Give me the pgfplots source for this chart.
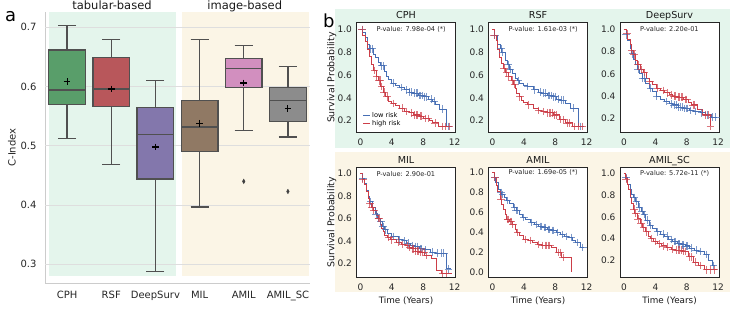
\documentclass[border=0pt]{standalone}
\usepackage{pgfplots}
\pgfplotsset{compat=1.18}
\usepgfplotslibrary{statistics}
\usepackage{fontspec}
\setmainfont{DejaVu Sans}
\definecolor{bggreen}{RGB}{228,245,236}
\definecolor{bgyellow}{RGB}{251,245,230}
\definecolor{boxedge}{RGB}{80,80,80}
\definecolor{cgreen}{RGB}{89,158,106}
\definecolor{cred}{RGB}{184,87,91}
\definecolor{cpurple}{RGB}{131,119,172}
\definecolor{cbrown}{RGB}{144,121,100}
\definecolor{cpink}{RGB}{210,143,191}
\definecolor{cgray}{RGB}{140,140,140}
\definecolor{kmblue}{RGB}{70,110,180}
\definecolor{kmred}{RGB}{204,62,72}
\newcommand\afont{\fontsize{10}{12}\selectfont}
\newcommand\kmfont{\fontsize{9}{10}\selectfont}
\newcommand\ktfont{\fontsize{9.6}{11}\selectfont}
\newcommand\pfont{\fontsize{6.6}{8}\selectfont}
\pgfplotsset{
 km/.style={scale only axis, width=99pt, height=110pt, anchor=south west, clip=false,
  xmin=-0.5, xmax=12.1, xtick={0,4,8,12},
  axis background/.style={fill=white},
  axis line style={black!85, line width=0.9pt},
  major tick length=0pt,
  tick label style={font=\kmfont, black!85},
  /pgf/number format/assume math mode=true,
  yticklabel style={/pgf/number format/fixed, /pgf/number format/fixed zerofill, /pgf/number format/precision=1, xshift=-1pt},
  xticklabel style={yshift=-5pt, inner sep=1pt},
  every axis y label/.style={at={(axis description cs:-0.25,0.5)}, rotate=90, anchor=center, font=\fontsize{9.4}{11}\selectfont, black!90},
  every axis x label/.style={at={(axis description cs:0.5,0)}, anchor=center, yshift=-23pt, inner sep=0.5pt, font=\fontsize{8.8}{10}\selectfont, black!90},
  ytick={0.2,0.4,0.6,0.8,1.0}},
 bl/.style={const plot, kmblue, line width=1pt},
 rl/.style={const plot, kmred, line width=1pt},
 bm/.style={only marks, mark=+, mark size=3.8pt, kmblue, mark options={line width=0.9pt, opacity=0.7}, forget plot},
 rm/.style={only marks, mark=+, mark size=3.8pt, kmred, mark options={line width=0.9pt, opacity=0.7}, forget plot},
 bx/.style={boxplot/draw direction=y, draw=boxedge, line width=1.3pt},
}
\newcommand\kmtitle[1]{\node[anchor=base, font=\ktfont, black!90] at (rel axis cs:0.5,1) [yshift=4.2pt] {#1};}
\begin{document}
\begin{tikzpicture}
\useasboundingbox (0,0) rectangle (730pt,309pt);
\fill[bggreen] (335pt,161.5pt) rectangle (730pt,299.7pt);
\fill[bgyellow] (335pt,17pt) rectangle (730pt,157pt);
% ---------------- panel a ----------------
\begin{axis}[scale only axis, width=265pt, height=271pt, at={(45pt,26pt)}, anchor=south west,
 xmin=-0.5, xmax=5.5, ymin=0.2685, ymax=0.7259,
 axis x line*=bottom, axis y line*=left, axis line style={black!20, line width=1pt, -},
 xtick={0,1,2,3,4,5}, xticklabels={CPH,RSF,DeepSurv,MIL,AMIL,AMIL\_SC},
 ytick={0.3,0.4,0.5,0.6,0.7}, major tick length=0pt,
 tick label style={font=\afont, black!85},
 /pgf/number format/assume math mode=true,
 yticklabel style={/pgf/number format/fixed, /pgf/number format/fixed zerofill, /pgf/number format/precision=1, xshift=-5pt},
 xticklabel style={yshift=-5pt},
 ylabel={C-Index},
 every axis y label/.style={at={(axis description cs:-0.125,0.5)}, rotate=90, anchor=center, font=\afont, black!85}]
\addplot[fill=bggreen, draw=none] coordinates {(-0.40,0.280) (2.47,0.280) (2.47,0.7259) (-0.40,0.7259)} -- cycle;
\addplot[fill=bgyellow, draw=none] coordinates {(2.61,0.280) (5.47,0.280) (5.47,0.7259) (2.61,0.7259)} -- cycle;
\addplot[black!13, line width=0.8pt] coordinates {(-0.5,0.3) (5.5,0.3)};
\addplot[black!13, line width=0.8pt] coordinates {(-0.5,0.4) (5.5,0.4)};
\addplot[black!13, line width=0.8pt] coordinates {(-0.5,0.5) (5.5,0.5)};
\addplot[black!13, line width=0.8pt] coordinates {(-0.5,0.6) (5.5,0.6)};
\addplot[black!13, line width=0.8pt] coordinates {(-0.5,0.7) (5.5,0.7)};
\addplot[bx, fill=cgreen, boxplot prepared={draw position=0, lower whisker=0.512, lower quartile=0.570, median=0.594, upper quartile=0.662, upper whisker=0.703, box extend=0.83, whisker extend=0.41}] coordinates {};
\addplot[bx, fill=cred, boxplot prepared={draw position=1, lower whisker=0.468, lower quartile=0.566, median=0.596, upper quartile=0.649, upper whisker=0.679, box extend=0.83, whisker extend=0.41}] coordinates {};
\addplot[bx, fill=cpurple, boxplot prepared={draw position=2, lower whisker=0.288, lower quartile=0.444, median=0.519, upper quartile=0.565, upper whisker=0.610, box extend=0.83, whisker extend=0.41}] coordinates {};
\addplot[bx, fill=cbrown, boxplot prepared={draw position=3, lower whisker=0.397, lower quartile=0.490, median=0.532, upper quartile=0.577, upper whisker=0.680, box extend=0.83, whisker extend=0.41}] coordinates {};
\addplot[bx, fill=cpink, boxplot prepared={draw position=4, lower whisker=0.526, lower quartile=0.598, median=0.630, upper quartile=0.647, upper whisker=0.669, box extend=0.83, whisker extend=0.41}] coordinates {};
\addplot[bx, fill=cgray, boxplot prepared={draw position=5, lower whisker=0.515, lower quartile=0.541, median=0.577, upper quartile=0.598, upper whisker=0.634, box extend=0.83, whisker extend=0.41}] coordinates {};
\addplot[only marks, mark=diamond*, mark size=2.3pt, mark options={xscale=0.75, fill=black!75, draw=black!75}] coordinates {(4,0.440) (5,0.423)};
\addplot[only marks, mark=+, mark size=3.4pt, black, mark options={line width=1.1pt}] coordinates {(0,0.608) (1,0.596) (2,0.498) (3,0.538) (4,0.606) (5,0.563)};
\end{axis}
\node[anchor=base, font=\fontsize{11.5}{13}\selectfont, black!90] at (112pt,300pt) {tabular-based};
\node[anchor=base, font=\fontsize{11.5}{13}\selectfont, black!90] at (244.7pt,300pt) {image-based};
\node[anchor=base west, inner sep=0pt, font=\fontsize{18}{20}\selectfont] at (5pt,287.3pt) {a};
\node[anchor=base west, inner sep=0pt, font=\fontsize{18}{20}\selectfont] at (323pt,281.7pt) {b};
% ---------------- CPH ----------------
\begin{axis}[km, at={(356.5pt,176.3pt)}, ymin=0.095, ymax=1.058, ylabel={Survival Probability},
 legend style={at={(axis description cs:0.03,0.02)}, anchor=south west, draw=none, fill=none, font=\pfont, row sep=-1.5pt, nodes={inner sep=1.5pt}},
 legend cell align=left,
 legend image code/.code={\draw[#1] (0pt,0pt) -- (7pt,0pt);}]
\addplot[bl] coordinates {(0,1.0)(0.3,0.97)(0.6,0.93)(0.9,0.87)(1.2,0.83)(1.6,0.78)(1.9,0.75)(2.3,0.71)(2.6,0.68)(3.0,0.63)(3.3,0.59)(3.6,0.56)(4.0,0.53)(4.5,0.51)(5.0,0.49)(5.6,0.47)(6.2,0.45)(6.8,0.44)(7.4,0.42)(8.0,0.41)(8.6,0.39)(9.2,0.37)(9.6,0.34)(10.1,0.30)(10.9,0.15)(11.4,0.15)};
\addlegendentry{low risk}
\addplot[rl] coordinates {(0,1.0)(0.3,0.95)(0.6,0.89)(0.9,0.82)(1.1,0.76)(1.4,0.69)(1.7,0.64)(2.0,0.59)(2.3,0.55)(2.6,0.50)(2.9,0.45)(3.2,0.41)(3.6,0.37)(4.0,0.35)(4.5,0.33)(5.0,0.31)(5.6,0.28)(6.2,0.27)(6.8,0.25)(7.5,0.24)(8.0,0.22)(8.8,0.20)(9.2,0.18)(9.9,0.15)(11.6,0.15)};
\addlegendentry{high risk}
\addplot[bm] coordinates {(0.2,1.0)(1.3,0.83)(1.5,0.83)(2.7,0.68)(2.9,0.68)(4.2,0.53)(5.2,0.49)(5.8,0.47)(6.3,0.45)(6.5,0.45)(6.9,0.44)(7.1,0.44)(7.3,0.44)(7.5,0.42)(7.7,0.42)(7.9,0.42)(8.2,0.41)(8.4,0.41)(9.0,0.39)(9.4,0.37)(10.5,0.30)(11.2,0.15)};
\addplot[rm] coordinates {(0.2,1.0)(1.8,0.64)(2.1,0.59)(2.4,0.55)(2.5,0.55)(2.7,0.50)(3.0,0.45)(3.4,0.41)(4.2,0.35)(5.3,0.31)(5.8,0.28)(6.5,0.27)(6.9,0.25)(7.1,0.25)(7.3,0.25)(7.6,0.24)(7.8,0.24)(8.3,0.22)(8.6,0.22)(9.5,0.18)(10.5,0.15)(10.8,0.15)(11.3,0.15)};
\node[anchor=west, font=\pfont, black!85] at (axis cs:1.6,1.0) {P-value: 7.98e-04 (*)};
\kmtitle{CPH}
\end{axis}
% ---------------- RSF ----------------
\begin{axis}[km, at={(488.5pt,176.3pt)}, ymin=0.095, ymax=1.058]
\addplot[bl] coordinates {(0,1.0)(0.3,0.95)(0.7,0.87)(1.0,0.83)(1.2,0.80)(1.6,0.73)(1.9,0.69)(2.2,0.65)(2.6,0.61)(2.9,0.57)(3.2,0.55)(3.5,0.53)(4.0,0.51)(4.4,0.50)(5.2,0.47)(5.8,0.45)(6.3,0.44)(7.0,0.42)(7.6,0.41)(8.2,0.39)(8.7,0.38)(9.3,0.35)(9.9,0.31)(11.0,0.15)(11.5,0.15)};
\addplot[rl] coordinates {(0,1.0)(0.2,0.95)(0.5,0.90)(0.7,0.82)(0.95,0.75)(1.2,0.70)(1.4,0.66)(1.7,0.62)(2.0,0.59)(2.4,0.55)(2.7,0.52)(2.9,0.48)(3.1,0.44)(3.4,0.41)(3.7,0.38)(4.0,0.36)(4.4,0.34)(5.2,0.31)(5.8,0.29)(6.3,0.28)(7.0,0.27)(7.8,0.25)(8.5,0.21)(9.3,0.18)(10.2,0.15)(11.7,0.15)};
\addplot[bm] coordinates {(0.3,0.95)(1.1,0.83)(1.3,0.80)(2.0,0.69)(2.3,0.65)(3.3,0.55)(4.5,0.50)(5.4,0.47)(6.1,0.45)(6.5,0.44)(6.8,0.44)(7.1,0.42)(7.3,0.42)(7.5,0.42)(7.8,0.41)(8.0,0.41)(8.4,0.39)(8.8,0.38)(9.0,0.38)(10.3,0.31)(11.2,0.15)};
\addplot[rm] coordinates {(0.2,0.95)(1.5,0.66)(1.8,0.62)(2.1,0.59)(2.5,0.55)(2.8,0.52)(3.5,0.41)(4.6,0.34)(5.9,0.29)(6.5,0.28)(7.0,0.27)(7.2,0.27)(7.4,0.27)(7.6,0.27)(7.9,0.25)(8.1,0.25)(8.7,0.21)(9.0,0.21)(9.5,0.18)(9.8,0.18)(10.5,0.15)(10.9,0.15)(11.4,0.15)};
\node[anchor=west, font=\pfont, black!85] at (axis cs:1.6,1.0) {P-value: 1.61e-03 (*)};
\kmtitle{RSF}
\end{axis}
% ---------------- DeepSurv ----------------
\begin{axis}[km, at={(620pt,176.3pt)}, ymin=0.071, ymax=1.059]
\addplot[bl] coordinates {(0,1.0)(0.3,0.95)(0.5,0.90)(0.8,0.83)(1.0,0.78)(1.2,0.73)(1.5,0.68)(1.7,0.64)(2.0,0.60)(2.3,0.56)(2.8,0.51)(3.2,0.47)(3.6,0.44)(4.1,0.40)(4.6,0.37)(5.2,0.35)(5.8,0.33)(6.2,0.32)(6.9,0.30)(7.6,0.29)(8.3,0.27)(8.9,0.26)(9.7,0.25)(10.4,0.23)(11.1,0.21)(11.8,0.21)};
\addplot[bm] coordinates {(0.3,0.95)(1.1,0.78)(1.8,0.64)(2.4,0.56)(2.6,0.56)(3.4,0.47)(4.2,0.40)(5.4,0.35)(6.0,0.33)(6.4,0.32)(6.7,0.32)(7.0,0.30)(7.2,0.30)(7.4,0.30)(7.7,0.29)(7.9,0.29)(8.1,0.29)(8.5,0.27)(9.1,0.26)(9.9,0.25)(10.6,0.23)(11.3,0.21)(11.7,0.21)};
\addplot[rl] coordinates {(0,1.0)(0.3,0.96)(0.5,0.91)(0.8,0.86)(1.0,0.81)(1.2,0.77)(1.5,0.72)(1.7,0.68)(2.1,0.64)(2.5,0.61)(2.9,0.56)(3.2,0.53)(3.6,0.50)(4.1,0.47)(4.6,0.45)(5.2,0.43)(5.8,0.41)(6.2,0.40)(6.9,0.39)(7.6,0.37)(8.2,0.34)(8.6,0.32)(9.3,0.28)(10.0,0.23)(11.0,0.13)};
\addplot[rm] coordinates {(0.4,0.96)(1.0,0.81)(1.3,0.77)(1.8,0.68)(2.2,0.64)(2.6,0.61)(3.3,0.53)(4.3,0.47)(5.0,0.45)(5.5,0.43)(6.0,0.41)(6.4,0.40)(6.6,0.40)(6.9,0.39)(7.1,0.39)(7.3,0.39)(7.5,0.39)(7.8,0.37)(8.0,0.37)(8.8,0.32)(9.0,0.32)(10.4,0.23)(10.7,0.23)(11.0,0.13)};
\node[anchor=west, font=\pfont, black!85] at (axis cs:1.6,1.0) {P-value: 2.20e-01};
\kmtitle{DeepSurv}
\end{axis}
% ---------------- MIL ----------------
\begin{axis}[km, at={(356.5pt,31.7pt)}, ymin=0.076, ymax=1.056, ylabel={Survival Probability}, xlabel={Time (Years)}]
\addplot[bl] coordinates {(0,1.0)(0.3,0.96)(0.5,0.91)(0.8,0.85)(1.0,0.80)(1.2,0.75)(1.5,0.70)(1.9,0.64)(2.2,0.60)(2.5,0.57)(2.8,0.53)(3.1,0.50)(3.5,0.47)(4.0,0.44)(4.8,0.41)(5.3,0.40)(5.9,0.38)(6.4,0.36)(6.9,0.35)(7.5,0.33)(8.0,0.32)(8.9,0.30)(9.5,0.29)(11.0,0.15)(11.5,0.15)};
\addplot[bm] coordinates {(0.3,0.96)(1.3,0.75)(2.0,0.64)(2.3,0.60)(2.6,0.57)(2.9,0.53)(3.2,0.50)(4.2,0.44)(5.0,0.41)(5.6,0.40)(6.1,0.38)(6.6,0.36)(7.0,0.35)(7.3,0.35)(7.6,0.33)(7.8,0.33)(8.3,0.32)(9.2,0.30)(9.8,0.29)(10.3,0.29)(10.6,0.29)(11.2,0.15)};
\addplot[rl] coordinates {(0,1.0)(0.3,0.95)(0.5,0.90)(0.8,0.84)(1.0,0.78)(1.2,0.73)(1.4,0.70)(1.65,0.67)(2.0,0.63)(2.3,0.60)(2.5,0.55)(2.7,0.51)(2.9,0.48)(3.1,0.45)(3.5,0.43)(3.8,0.41)(4.6,0.39)(5.2,0.37)(5.7,0.36)(6.2,0.34)(6.5,0.33)(7.0,0.31)(7.6,0.30)(8.2,0.27)(9.1,0.24)(9.7,0.14)(10.3,0.11)(11.6,0.11)};
\addplot[rm] coordinates {(0.3,0.95)(1.2,0.73)(1.5,0.70)(1.7,0.67)(2.3,0.60)(2.4,0.60)(3.6,0.43)(4.0,0.41)(4.8,0.39)(5.4,0.37)(6.0,0.36)(6.3,0.34)(6.6,0.33)(6.8,0.33)(7.0,0.31)(7.2,0.31)(7.4,0.31)(7.7,0.30)(7.9,0.30)(8.1,0.30)(8.4,0.27)(10.5,0.11)(10.9,0.11)};
\node[anchor=west, font=\pfont, black!85] at (axis cs:1.6,1.0) {P-value: 2.90e-01};
\kmtitle{MIL}
\end{axis}
% ---------------- AMIL ----------------
\begin{axis}[km, at={(488.5pt,31.7pt)}, ymin=-0.05, ymax=1.05, ytick={0,0.2,0.4,0.6,0.8,1.0}, xlabel={Time (Years)}]
\addplot[bl] coordinates {(0,1.0)(0.2,0.95)(0.4,0.90)(0.75,0.83)(1.0,0.80)(1.2,0.78)(1.5,0.75)(1.8,0.72)(2.2,0.69)(2.7,0.65)(3.0,0.62)(3.4,0.58)(3.8,0.55)(4.2,0.53)(4.8,0.50)(5.3,0.48)(5.8,0.46)(6.4,0.45)(7.0,0.43)(7.5,0.42)(8.1,0.40)(8.6,0.38)(9.2,0.36)(9.7,0.35)(10.2,0.32)(10.6,0.30)(11.2,0.25)(11.7,0.25)};
\addplot[rl] coordinates {(0,1.0)(0.2,0.95)(0.5,0.87)(0.7,0.81)(1.0,0.73)(1.2,0.68)(1.4,0.63)(1.6,0.58)(1.8,0.53)(2.2,0.51)(2.5,0.48)(2.9,0.43)(3.1,0.40)(3.4,0.37)(4.0,0.33)(4.6,0.32)(5.1,0.30)(5.7,0.28)(6.2,0.27)(7.5,0.25)(8.2,0.20)(8.8,0.15)(10.0,0.0)};
\addplot[bm] coordinates {(0.3,0.95)(1.1,0.80)(1.3,0.78)(1.9,0.72)(2.8,0.65)(3.0,0.62)(3.2,0.62)(4.0,0.55)(5.0,0.50)(5.6,0.48)(6.1,0.46)(6.3,0.46)(6.6,0.45)(6.8,0.45)(7.1,0.43)(7.3,0.43)(7.6,0.42)(7.8,0.42)(8.3,0.40)(8.9,0.38)(9.4,0.36)(10.0,0.35)(10.8,0.30)(11.5,0.25)};
\addplot[rm] coordinates {(0.3,0.95)(1.1,0.73)(1.9,0.53)(2.0,0.53)(2.3,0.51)(2.4,0.51)(2.6,0.48)(3.2,0.40)(4.2,0.33)(4.9,0.32)(5.9,0.28)(6.4,0.27)(6.7,0.27)(6.9,0.27)(7.1,0.27)(7.3,0.27)(8.4,0.20)(8.6,0.20)(9.0,0.15)};
\node[anchor=west, font=\pfont, black!85] at (axis cs:1.6,1.0) {P-value: 1.69e-05 (*)};
\kmtitle{AMIL}
\end{axis}
% ---------------- AMIL_SC ----------------
\begin{axis}[km, at={(620pt,31.7pt)}, ymin=0.04, ymax=1.058, xlabel={Time (Years)}]
\addplot[bl] coordinates {(0,1.0)(0.2,0.96)(0.5,0.90)(0.8,0.85)(1.0,0.81)(1.2,0.78)(1.5,0.74)(1.9,0.69)(2.2,0.65)(2.5,0.62)(2.8,0.57)(3.2,0.52)(3.6,0.49)(4.1,0.46)(4.6,0.44)(5.2,0.42)(5.7,0.39)(6.2,0.37)(6.8,0.35)(7.3,0.34)(7.8,0.33)(8.4,0.31)(9.0,0.29)(9.5,0.28)(10.2,0.25)(10.8,0.20)(11.3,0.15)(11.6,0.15)};
\addplot[rl] coordinates {(0,1.0)(0.2,0.95)(0.4,0.90)(0.6,0.85)(0.8,0.78)(1.0,0.72)(1.2,0.67)(1.4,0.63)(1.7,0.58)(2.1,0.54)(2.4,0.50)(2.75,0.46)(3.1,0.42)(3.4,0.40)(3.8,0.37)(4.3,0.35)(4.8,0.33)(5.4,0.32)(6.0,0.30)(6.5,0.29)(7.5,0.28)(8.2,0.23)(8.9,0.18)(9.5,0.15)(10.2,0.11)(11.9,0.11)};
\addplot[bm] coordinates {(0.3,0.96)(1.3,0.78)(1.6,0.74)(2.0,0.69)(2.3,0.65)(2.6,0.62)(3.0,0.57)(3.4,0.52)(4.3,0.46)(5.0,0.44)(5.5,0.42)(6.0,0.39)(6.4,0.37)(6.6,0.37)(6.9,0.35)(7.1,0.35)(7.4,0.34)(7.6,0.34)(7.9,0.33)(8.1,0.33)(8.6,0.31)(9.2,0.29)(9.7,0.28)(10.5,0.25)(11.4,0.15)};
\addplot[rm] coordinates {(0.3,0.95)(1.3,0.67)(1.5,0.63)(1.8,0.58)(2.2,0.54)(2.5,0.50)(2.9,0.46)(3.5,0.40)(4.0,0.37)(4.5,0.35)(5.0,0.33)(5.6,0.32)(6.2,0.30)(6.7,0.29)(6.9,0.29)(7.1,0.29)(7.3,0.29)(7.6,0.28)(7.8,0.28)(8.4,0.23)(8.6,0.23)(9.1,0.18)(9.7,0.15)(10.5,0.11)(11.0,0.11)(11.5,0.11)};
\node[anchor=west, font=\pfont, black!85] at (axis cs:1.6,1.0) {P-value: 5.72e-11 (*)};
\kmtitle{AMIL\_SC}
\end{axis}
\end{tikzpicture}
\end{document}
